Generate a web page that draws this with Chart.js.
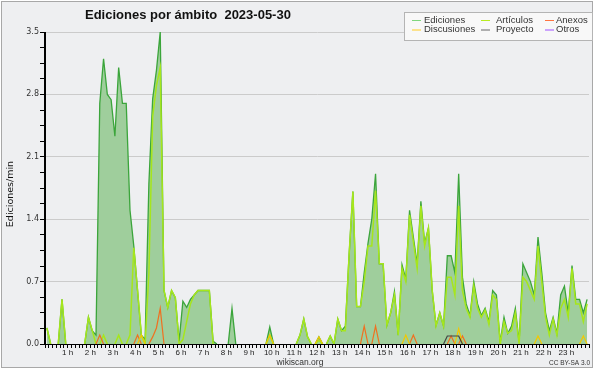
<!DOCTYPE html>
<html>
<head>
<meta charset="utf-8">
<script src="https://cdn.jsdelivr.net/npm/chart.js@4.4.0/dist/chart.umd.min.js"></script>
<style>
  html, body { margin: 0; padding: 0; background: #fff; }
  #wrap { width: 600px; height: 370px; }
</style>
</head>
<body>
<div id="wrap"><canvas id="grafico" width="600" height="370"></canvas></div>
<script>
// Ediciones por minuto, bloques de 10 minutos (00:00 - 23:50)
const ediciones = [
  0.18,0,0,0,0.5,0,0,0,0,0,0,0.3,
  0.15,0.1,2.7,3.2,2.8,2.74,2.33,3.1,2.7,2.7,1.5,1.1,
  0.6,0.1,0.05,1.8,2.75,3.07,3.5,0.6,0.41,0.6,0.52,0.03,
  0.48,0.41,0.5,0.55,0.6,0.6,0.6,0.6,0.03,0,0,0,
  0,0.4,0,0,0,0,0,0,0,0,0,0.19,
  0,0,0,0,0,0,0,0.1,0.28,0.08,0,0,
  0.08,0,0,0.09,0,0.28,0.15,0.2,1.0,1.71,0.42,0.42,
  0.8,1.13,1.4,1.91,0.9,0.9,0.21,0.35,0.59,0.1,0.89,0.73,
  1.5,1.2,0.9,1.6,1.13,1.3,0.6,0.21,0.35,0.2,0.99,0.99,
  0.8,1.91,0.75,0.45,0.32,0.7,0.45,0.32,0.4,0.25,0.6,0.55,
  0.02,0.3,0.12,0.2,0.4,0.02,0.9,0.8,0.7,0.55,1.2,0.8,
  0.35,0.15,0.3,0.12,0.55,0.65,0.35,0.88,0.5,0.5,0.35,0.5
];
const articulos = [
  0.18,0,0,0,0.5,0,0,0,0,0,0,0.3,
  0.15,0,0,0.1,0,0,0,0.1,0,0,0.1,1.08,
  0.6,0.1,0,0.8,2.55,2.9,3.1,0.6,0.41,0.6,0.52,0,
  0.05,0.25,0.45,0.55,0.6,0.6,0.6,0.6,0,0,0,0,
  0,0,0,0,0,0,0,0,0,0,0,0.1,
  0,0,0,0,0,0,0,0.1,0.28,0.08,0,0,
  0.04,0,0,0.09,0,0.28,0.15,0.15,1.0,1.71,0.42,0.42,
  0.7,1.1,1.1,1.72,0.9,0.9,0.21,0.35,0.55,0.1,0.85,0.7,
  1.45,1.15,0.85,1.55,1.1,1.3,0.6,0.2,0.35,0.2,0.75,0.75,
  0.55,1.55,0.6,0.4,0.3,0.65,0.4,0.3,0.38,0.22,0.55,0.5,
  0,0.25,0.12,0.15,0.35,0,0.75,0.7,0.6,0.5,1.1,0.7,
  0.3,0.1,0.28,0.1,0.4,0.5,0.3,0.85,0.45,0.45,0.25,0.45
];
const anexos = [
  0,0,0,0,0,0,0,0,0,0,0,0,
  0,0,0.1,0,0,0,0,0,0,0,0,0,
  0.1,0,0,0,0.08,0.18,0.4,0,0,0,0,0,
  0,0,0,0,0,0,0,0,0,0,0,0,
  0,0,0,0,0,0,0,0,0,0,0,0,
  0,0,0,0,0,0,0,0,0,0,0,0,
  0,0,0,0,0,0,0,0,0,0,0,0,
  0.2,0,0,0.2,0,0,0,0,0,0,0,0,
  0,0.1,0,0,0,0,0,0,0,0,0,0.09,
  0,0,0.09,0,0,0,0,0,0,0,0,0,
  0,0,0,0,0,0,0,0,0,0,0,0,
  0,0,0,0,0,0,0,0,0,0,0,0
];
const discusiones = [
  0,0,0,0,0,0,0,0,0,0,0,0,
  0,0,0,0,0,0,0,0,0,0,0,0,
  0,0.1,0,0,0,0,0,0,0,0,0,0,
  0,0,0,0,0,0,0,0,0,0,0,0,
  0,0,0,0,0,0,0,0,0,0,0,0.1,
  0,0,0,0,0,0,0,0,0,0,0,0,
  0.08,0,0,0,0,0,0,0,0,0,0,0,
  0,0,0,0,0,0,0,0,0,0,0,0.1,
  0,0,0,0,0,0,0,0,0,0,0,0,
  0,0.17,0,0,0,0,0,0,0,0,0,0,
  0,0,0,0,0,0,0,0,0,0,0.09,0,
  0,0,0,0,0,0,0,0,0,0,0.09,0
];
const proyecto = [
  0,0,0,0,0,0,0,0,0,0,0,0,
  0,0,0,0,0,0,0,0,0,0,0,0,
  0,0,0,0,0,0,0,0,0,0,0,0,
  0,0,0,0,0,0,0,0,0,0,0,0,
  0,0,0,0,0,0,0,0,0,0,0,0,
  0,0,0,0,0,0,0,0,0,0,0,0,
  0,0,0,0,0,0,0,0,0,0,0,0,
  0,0,0,0,0,0,0,0,0,0,0,0,
  0,0,0,0,0,0,0,0,0,0,0.09,0.09,
  0.09,0.09,0,0,0,0,0,0,0,0,0,0,
  0,0,0,0,0,0,0,0,0,0,0,0,
  0,0,0,0,0,0,0,0,0,0,0,0
];
const otros = new Array(144).fill(0);

const horas = ["1 h","2 h","3 h","4 h","5 h","6 h","7 h","8 h","9 h","10 h","11 h","12 h",
  "13 h","14 h","15 h","16 h","17 h","18 h","19 h","20 h","21 h","22 h","23 h"];
const ticksY = [0, 0.7, 1.4, 2.1, 2.8, 3.5];

const leyenda = [
  ["Ediciones", "#7fd67f"], ["Artículos", "#b8ec20"], ["Anexos", "#ff7440"],
  ["Discusiones", "#ffcc22"], ["Proyecto", "#666666"], ["Otros", "#a050ff"]
];

// cada punto al centro de su bloque de 10 min
const serie = arr => arr.map((v, i) => ({ x: i + 0.5, y: v }));
const esMayor = v => ticksY.some(t => Math.abs(t - v) < 1e-6);
const sinCeros = color => ({
  borderColor: ctx => (ctx.p0.parsed.y === 0 && ctx.p1.parsed.y === 0) ? "transparent" : color
});

const marco = {
  id: "marco",
  beforeDraw(chart) {
    const c = chart.ctx;
    c.save();
    c.fillStyle = "#ffffff";
    c.fillRect(0, 0, chart.width, chart.height);
    c.fillStyle = "#eeeff1";
    c.fillRect(1, 1, 592, 367);
    c.strokeStyle = "#a8a8a8";
    c.lineWidth = 1;
    c.strokeRect(1.5, 1.5, 591, 366);
    c.restore();
  },
  afterDatasetsDraw(chart) {
    const { left, right, top, bottom } = chart.chartArea;
    const c = chart.ctx;
    c.save();
    c.strokeStyle = "#000";
    c.lineWidth = 1;
    c.beginPath();
    c.moveTo(left - 0.5, top);
    c.lineTo(left - 0.5, bottom + 0.5);
    c.lineTo(right, bottom + 0.5);
    c.stroke();
    c.restore();
  },
  afterDraw(chart) {
    const c = chart.ctx;
    c.save();
    // título
    c.fillStyle = "#111";
    c.font = "bold 13px 'Liberation Sans'";
    c.textBaseline = "alphabetic";
    c.textAlign = "left";
    c.fillText("Ediciones por ámbito  2023-05-30", 85, 18.5);

    // leyenda
    c.fillStyle = "#f8f8f8";
    c.fillRect(404, 12, 189, 29);
    c.strokeStyle = "#b4b4b4";
    c.strokeRect(404.5, 12.5, 188, 28);
    const colLinea = [412, 481, 545];
    const colTexto = [424, 496, 556];
    c.font = "9.5px 'Liberation Sans'";
    c.textBaseline = "middle";
    leyenda.forEach(([txt, col], k) => {
      const fila = Math.floor(k / 3), cc = k % 3;
      const y = 20 + fila * 9.5;
      c.strokeStyle = col;
      c.lineWidth = 1;
      c.beginPath();
      c.moveTo(colLinea[cc], y + 0.5);
      c.lineTo(colLinea[cc] + 9, y + 0.5);
      c.stroke();
      c.fillStyle = "#333";
      c.fillText(txt, colTexto[cc], y);
    });

    // etiqueta del eje Y
    c.save();
    c.translate(11, 194);
    c.rotate(-Math.PI / 2);
    c.textAlign = "center";
    c.textBaseline = "middle";
    c.font = "9.5px 'DejaVu Sans'";
    c.fillStyle = "#111";
    c.fillText("Ediciones/min", 0, 0);
    c.restore();

    // pie
    c.textBaseline = "alphabetic";
    c.textAlign = "center";
    c.font = "8.5px 'Liberation Sans'";
    c.fillStyle = "#333";
    c.fillText("wikiscan.org", 300, 365);
    c.textAlign = "right";
    c.font = "6.5px 'Liberation Sans'";
    c.fillText("CC BY-SA 3.0", 590, 365);
    c.restore();
  }
};

new Chart(document.getElementById("grafico"), {
  type: "line",
  data: {
    datasets: [
      { label: "Ediciones", data: serie(ediciones), borderColor: "#3ba53b", backgroundColor: "#9fce9c",
        fill: "origin", borderWidth: 1.3, order: 6, segment: sinCeros("#3ba53b") },
      { label: "Artículos", data: serie(articulos), borderColor: "#a6e61c", borderWidth: 1.5,
        fill: false, order: 5, segment: sinCeros("#a6e61c") },
      { label: "Anexos", data: serie(anexos), borderColor: "#f07020", borderWidth: 1.2,
        fill: false, order: 4, segment: sinCeros("#f07020") },
      { label: "Discusiones", data: serie(discusiones), borderColor: "#f2c800", borderWidth: 1.2,
        fill: false, order: 3, segment: sinCeros("#f2c800") },
      { label: "Proyecto", data: serie(proyecto), borderColor: "#444444", borderWidth: 1.2,
        fill: false, order: 2, segment: sinCeros("#444444") },
      { label: "Otros", data: serie(otros), borderColor: "#9933ee", borderWidth: 1.2,
        fill: false, order: 1, segment: sinCeros("#9933ee") }
    ]
  },
  options: {
    responsive: false,
    animation: false,
    devicePixelRatio: 1,
    layout: { padding: { top: 32, right: 11, left: 0, bottom: 0 } },
    elements: { point: { radius: 0 }, line: { tension: 0 } },
    plugins: { legend: { display: false }, tooltip: { enabled: false } },
    scales: {
      x: {
        type: "linear", min: 0, max: 144,
        afterFit: s => { s.height = 26; },
        border: { color: "#000" },
        grid: { drawOnChartArea: false, tickLength: 4, color: "#000", tickColor: "#000" },
        ticks: {
          stepSize: 1, autoSkip: false, maxRotation: 0, padding: 0,
          color: "#222", font: { family: "Liberation Sans", size: 8 },
          callback: v => (v % 6 === 0 && v > 0 && v < 144) ? horas[v / 6 - 1] : ""
        }
      },
      y: {
        min: 0, max: 3.5,
        afterFit: s => { s.width = 45; },
        border: { color: "#000" },
        grid: {
          tickLength: 5, tickColor: "#000",
          color: ctx => (esMayor(ctx.tick.value) ? "#cbcbcb" : "transparent")
        },
        ticks: {
          stepSize: 0.175, autoSkip: false, padding: 1,
          color: "#333", font: { family: "DejaVu Sans", size: 8 },
          callback: v => esMayor(v) ? v.toFixed(1) : ""
        }
      }
    }
  },
  plugins: [marco]
});
</script>
</body>
</html>
